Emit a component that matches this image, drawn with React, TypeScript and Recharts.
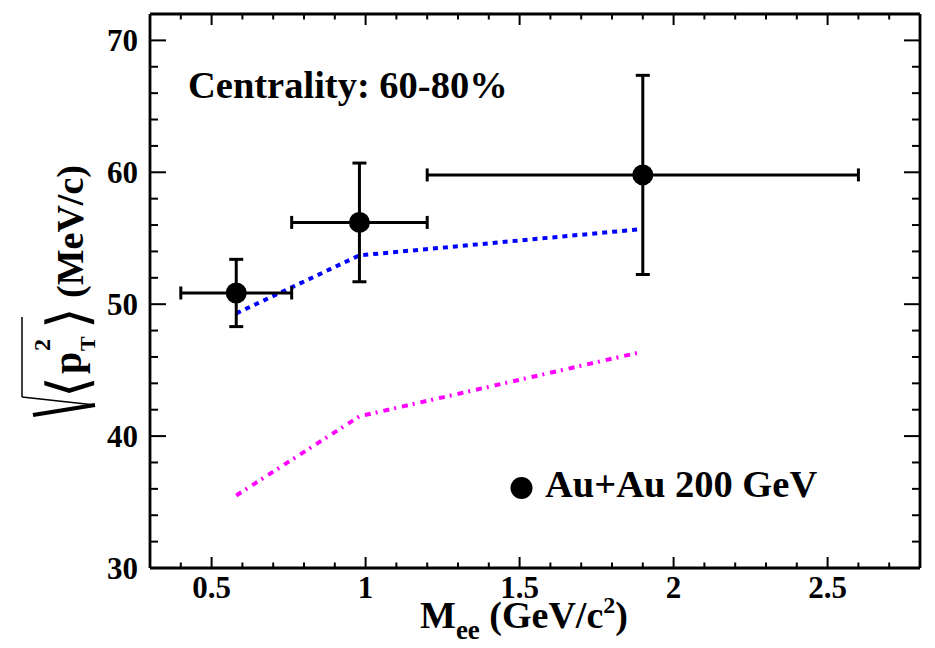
import React from 'react';
import { ComposedChart, Scatter, Line, XAxis, YAxis, ErrorBar } from 'recharts';

// Measured <pT^2>^(1/2) vs dielectron mass, Au+Au 200 GeV, centrality 60-80%
const MASS = [0.58, 0.98, 1.9];
const MASS_HALF_BIN = [0.18, 0.22, 0.7];
const RMS_PT = [50.85, 56.2, 59.8];
const RMS_PT_ERR = [2.55, 4.5, 7.55];

// Model curves
const CURVE_BLUE_MASS = [0.58, 0.98, 1.9];
const CURVE_BLUE_PT = [49.3, 53.7, 55.7];
const CURVE_MAGENTA_MASS = [0.58, 0.98, 1.9];
const CURVE_MAGENTA_PT = [35.5, 41.5, 46.4];

// Axis ticks
const X_MAJOR = [0.5, 1, 1.5, 2, 2.5];
const X_LABELS = ['0.5', '1', '1.5', '2', '2.5'];
const X_TICKS = [0.4, 0.5, 0.6, 0.7, 0.8, 0.9, 1.0, 1.1, 1.2, 1.3, 1.4, 1.5, 1.6, 1.7, 1.8, 1.9, 2.0, 2.1, 2.2, 2.3, 2.4, 2.5, 2.6, 2.7];
const Y_MAJOR = [30, 40, 50, 60, 70];
const Y_LABELS = ['30', '40', '50', '60', '70'];
const Y_TICKS = [30, 32, 34, 36, 38, 40, 42, 44, 46, 48, 50, 52, 54, 56, 58, 60, 62, 64, 66, 68, 70];

const W = 935;
const H = 648;
const FONT = '"Liberation Serif", "Times New Roman", serif';
const SYMBOL_FONT = '"DejaVu Sans", sans-serif';

const measured = MASS.map((m, i) => ({ x: m, y: RMS_PT[i], ex: MASS_HALF_BIN[i], ey: RMS_PT_ERR[i] }));
const blueCurve = CURVE_BLUE_MASS.map((m, i) => ({ x: m, y: CURVE_BLUE_PT[i] }));
const magentaCurve = CURVE_MAGENTA_MASS.map((m, i) => ({ x: m, y: CURVE_MAGENTA_PT[i] }));

const majorIndex = (list: number[], v: number) => list.findIndex((m) => Math.abs(m - v) < 1e-6);

const BottomTick = (props: any) => {
  const { x, y, payload } = props;
  const idx = majorIndex(X_MAJOR, payload.value);
  const len = idx >= 0 ? 11 : 5.5;
  return (
    <g>
      <line x1={x} x2={x} y1={y} y2={y - len} stroke="#000" strokeWidth={2} />
      {idx >= 0 && (
        <text x={x} y={y + 30} textAnchor="middle" fontFamily={FONT} fontWeight="bold" fontSize={31} fill="#000">
          {X_LABELS[idx]}
        </text>
      )}
    </g>
  );
};

const TopTick = (props: any) => {
  const { x, y, payload } = props;
  const len = majorIndex(X_MAJOR, payload.value) >= 0 ? 11 : 5.5;
  return <line x1={x} x2={x} y1={y} y2={y + len} stroke="#000" strokeWidth={2} />;
};

const LeftTick = (props: any) => {
  const { x, y, payload } = props;
  const idx = majorIndex(Y_MAJOR, payload.value);
  const len = idx >= 0 ? 16 : 8;
  return (
    <g>
      <line x1={x} x2={x + len} y1={y} y2={y} stroke="#000" strokeWidth={2} />
      {idx >= 0 && (
        <text x={x - 12} y={y + 11} textAnchor="end" fontFamily={FONT} fontWeight="bold" fontSize={31} fill="#000">
          {Y_LABELS[idx]}
        </text>
      )}
    </g>
  );
};

const RightTick = (props: any) => {
  const { x, y, payload } = props;
  const len = majorIndex(Y_MAJOR, payload.value) >= 0 ? 16 : 8;
  return <line x1={x} x2={x - len} y1={y} y2={y} stroke="#000" strokeWidth={2} />;
};

const Marker = (props: any) => {
  const { cx, cy } = props;
  return <circle cx={cx} cy={cy} r={10.5} fill="#000" />;
};

const axisLine = { stroke: '#000', strokeWidth: 2.8 };

export default function App() {
  return (
    <div style={{ position: 'absolute', left: 0, top: 0, width: W, height: H, background: '#fff' }}>
      <ComposedChart width={W} height={H} margin={{ top: 13, right: 14, bottom: 79, left: 149 }}>
        <XAxis
          xAxisId="main"
          dataKey="x"
          type="number"
          domain={[0.3, 2.8]}
          allowDataOverflow
          ticks={X_TICKS}
          interval={0}
          height={1}
          tickSize={0}
          tickMargin={0}
          tickLine={false}
          axisLine={axisLine}
          tick={BottomTick}
        />
        <XAxis
          xAxisId="top"
          orientation="top"
          dataKey="x"
          type="number"
          domain={[0.3, 2.8]}
          allowDataOverflow
          ticks={X_TICKS}
          interval={0}
          height={1}
          tickSize={0}
          tickMargin={0}
          tickLine={false}
          axisLine={axisLine}
          tick={TopTick}
        />
        <YAxis
          yAxisId="main"
          dataKey="y"
          type="number"
          domain={[30, 72]}
          allowDataOverflow
          ticks={Y_TICKS}
          interval={0}
          width={1}
          tickSize={0}
          tickMargin={0}
          tickLine={false}
          axisLine={axisLine}
          tick={LeftTick}
        />
        <YAxis
          yAxisId="right"
          orientation="right"
          dataKey="y"
          type="number"
          domain={[30, 72]}
          allowDataOverflow
          ticks={Y_TICKS}
          interval={0}
          width={1}
          tickSize={0}
          tickMargin={0}
          tickLine={false}
          axisLine={axisLine}
          tick={RightTick}
        />

        <Line
          xAxisId="main"
          yAxisId="main"
          data={magentaCurve}
          dataKey="y"
          type="linear"
          stroke="#ff00ff"
          strokeWidth={4}
          strokeDasharray="6 5 2 6"
          dot={false}
          activeDot={false}
          isAnimationActive={false}
        />
        <Line
          xAxisId="main"
          yAxisId="main"
          data={blueCurve}
          dataKey="y"
          type="linear"
          stroke="#0000ff"
          strokeWidth={4}
          strokeDasharray="5 5"
          dot={false}
          activeDot={false}
          isAnimationActive={false}
        />
        <Scatter
          xAxisId="main"
          yAxisId="main"
          data={measured}
          dataKey="y"
          shape={Marker}
          isAnimationActive={false}
        >
          <ErrorBar dataKey="ey" direction="y" width={7} stroke="#000" strokeWidth={3} isAnimationActive={false} />
          <ErrorBar dataKey="ex" direction="x" width={6.5} stroke="#000" strokeWidth={3} isAnimationActive={false} />
        </Scatter>

        {/* annotation */}
        <text x={188} y={98} fontFamily={FONT} fontWeight="bold" fontSize={38.5} fill="#000">
          Centrality: 60-80%
        </text>

        {/* legend */}
        <circle cx={521.5} cy={488} r={11} fill="#000" />
        <text x={545} y={497} fontFamily={FONT} fontWeight="bold" fontSize={38.5} fill="#000">
          Au+Au 200 GeV
        </text>

        {/* x-axis title */}
        <text x={420} y={628} fontFamily={FONT} fontWeight="bold" fontSize={38} fill="#000">
          <tspan>M</tspan>
          <tspan dy={11} fontSize={27}>ee</tspan>
          <tspan dy={-11}> (GeV/c</tspan>
          <tspan dy={-15} fontSize={24}>2</tspan>
          <tspan dy={15}>)</tspan>
        </text>

        {/* y-axis title, rotated */}
        <g transform="translate(97,420) rotate(-90)">
          <line x1={5} y1={-64} x2={15} y2={-2} stroke="#000" strokeWidth={4} />
          <line x1={15} y1={-2} x2={23} y2={-75} stroke="#000" strokeWidth={1.5} />
          <line x1={23} y1={-75} x2={103} y2={-75} stroke="#000" strokeWidth={1.5} />
          <text x={22} y={-10} fontFamily={SYMBOL_FONT} fontSize={56} fill="#000">⟨</text>
          <text x={46} y={-16} fontFamily={FONT} fontWeight="bold" fontSize={40} fill="#000">p</text>
          <text x={69} y={-2} fontFamily={FONT} fontWeight="bold" fontSize={22} fill="#000">T</text>
          <text x={69} y={-47} fontFamily={FONT} fontWeight="bold" fontSize={24} fill="#000">2</text>
          <text x={91} y={-10} fontFamily={SYMBOL_FONT} fontSize={56} fill="#000">⟩</text>
          <text x={122} y={-14} fontFamily={FONT} fontWeight="bold" fontSize={38} fill="#000">
            (MeV/c)
          </text>
        </g>
      </ComposedChart>
    </div>
  );
}
